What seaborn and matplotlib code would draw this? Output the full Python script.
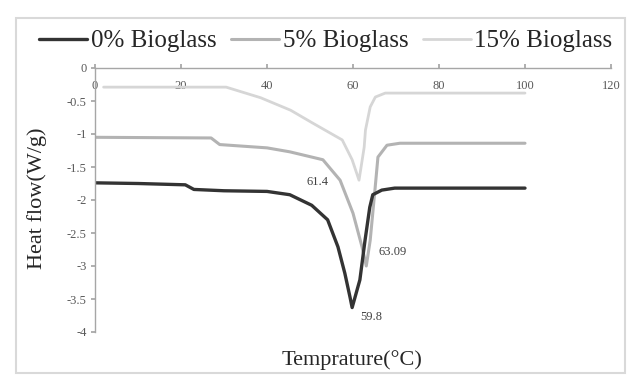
import matplotlib
matplotlib.use("Agg")
import matplotlib.pyplot as plt
import numpy as np
import pandas as pd
import seaborn as sns
from matplotlib.patches import Rectangle

# DSC heat-flow curves (Temperature in °C, heat flow in W/g)
temp_0 = [0, 10, 21, 23, 30, 40, 45.3, 50.4, 54.1, 56.5, 58.1, 59.3, 59.8,
          61.6, 62.8, 63.9, 64.6, 66.7, 69.7, 80, 100]
flow_0 = [-1.74, -1.75, -1.77, -1.84, -1.86, -1.87, -1.92, -2.08, -2.30, -2.71,
          -3.11, -3.47, -3.63, -3.21, -2.61, -2.11, -1.92, -1.85, -1.82, -1.82, -1.82]

temp_5 = [0, 27, 29, 40, 45.3, 53.0, 57.0, 60.0, 62.1, 63.09, 64.0, 65.1,
          65.8, 67.9, 70.9, 100]
flow_5 = [-1.05, -1.06, -1.16, -1.21, -1.27, -1.39, -1.70, -2.20, -2.71, -3.00,
          -2.61, -1.85, -1.35, -1.17, -1.14, -1.14]

temp_15 = [2, 30.5, 38.5, 45.5, 50.5, 57.5, 59.8, 61.4, 62.6, 62.9, 64.0,
           65.2, 67.5, 100]
flow_15 = [-0.29, -0.29, -0.45, -0.64, -0.83, -1.09, -1.39, -1.70, -1.20, -0.94,
           -0.59, -0.44, -0.38, -0.38]

series_names = ["0% Bioglass", "5% Bioglass", "15% Bioglass"]
peak_temps = [59.8, 63.09, 61.4]
peak_flows = [-3.63, -3.00, -1.70]
peak_labels = ["59.8", "63.09", "61.4"]

x_ticks = [0, 20, 40, 60, 80, 100, 120]
y_ticks = [0, -0.5, -1, -1.5, -2, -2.5, -3, -3.5, -4]
y_tick_labels = ["0", "-0.5", "-1", "-1.5", "-2", "-2.5", "-3", "-3.5", "-4"]

sns.set_theme(style="white")
plt.rcParams["font.family"] = ["Liberation Serif", "DejaVu Serif"]

W, H = 628, 376
fig = plt.figure(figsize=(W / 100, H / 100), dpi=100)
ax = fig.add_axes([95 / W, 1 - 332 / H, (611 - 95) / W, (332 - 68) / H])

frames = []
for name, t, f in zip(series_names, [temp_0, temp_5, temp_15], [flow_0, flow_5, flow_15]):
    frames.append(pd.DataFrame({"Temperature": t, "Heat flow": f, "Sample": name}))
df = pd.concat(frames, ignore_index=True)

colors = {"0% Bioglass": "#333333", "5% Bioglass": "#b3b3b3", "15% Bioglass": "#d6d6d6"}
widths = {"0% Bioglass": 2.4, "5% Bioglass": 2.2, "15% Bioglass": 2.0}

# draw lighter curves first so the dark one sits on top
for name in series_names[::-1]:
    sns.lineplot(data=df[df["Sample"] == name], x="Temperature", y="Heat flow",
                 color=colors[name], linewidth=widths[name], ax=ax, sort=False,
                 label=name, legend=False)

ax.set_xlim(0, 120)
ax.set_ylim(-4, 0)
ax.set_xticks(x_ticks)
ax.set_yticks(y_ticks)
ax.set_yticklabels(y_tick_labels)
ax.set_xlabel("")
ax.set_ylabel("")

# x axis runs along y = 0 at the top, with labels just beneath it
ax.xaxis.set_ticks_position("top")
ax.tick_params(axis="x", labeltop=True, labelbottom=False, length=3, pad=-20,
               labelsize=9, colors="#a6a6a6", labelcolor="#595959")
ax.tick_params(axis="y", length=3, pad=3, labelsize=9, colors="#a6a6a6",
               labelcolor="#595959", left=True)
for side in ["right", "bottom"]:
    ax.spines[side].set_visible(False)
for side in ["top", "left"]:
    ax.spines[side].set_color("#a6a6a6")
    ax.spines[side].set_linewidth(1.0)

# peak annotations
offsets = [((6, -7), "left"), ((9, 10), "left"), ((-22, -1), "right")]
for tx, fy, lab, (off, ha) in zip(peak_temps, peak_flows, peak_labels, offsets):
    ax.annotate(lab, xy=(tx, fy), xytext=off, textcoords="offset points",
                ha=ha, va="center", fontsize=9, color="#404040")

# legend across the top
handles, labels = ax.get_legend_handles_labels()
order = [labels.index(n) for n in series_names]
fig.legend([handles[i] for i in order], [labels[i] for i in order],
           loc="center", bbox_to_anchor=(326 / W, 1 - 41 / H), ncol=3,
           frameon=False, fontsize=18, handlelength=1.9, handletextpad=0.15,
           columnspacing=0.6, labelcolor="#262626")

fig.text(37 / W, 1 - 198 / H, "Heat flow(W/g)", rotation=90, ha="center",
         va="center", fontsize=16, color="#262626")
fig.text(352 / W, 1 - 360 / H, "Temprature(°C)", ha="center", va="center",
         fontsize=16, color="#262626")

# chart area border
fig.patches.append(Rectangle((16 / W, 3 / H), (625 - 16) / W, (358 - 3) / H,
                             transform=fig.transFigure, fill=False,
                             edgecolor="#d9d9d9", linewidth=1.5))

fig.savefig("out.png", dpi=100)
